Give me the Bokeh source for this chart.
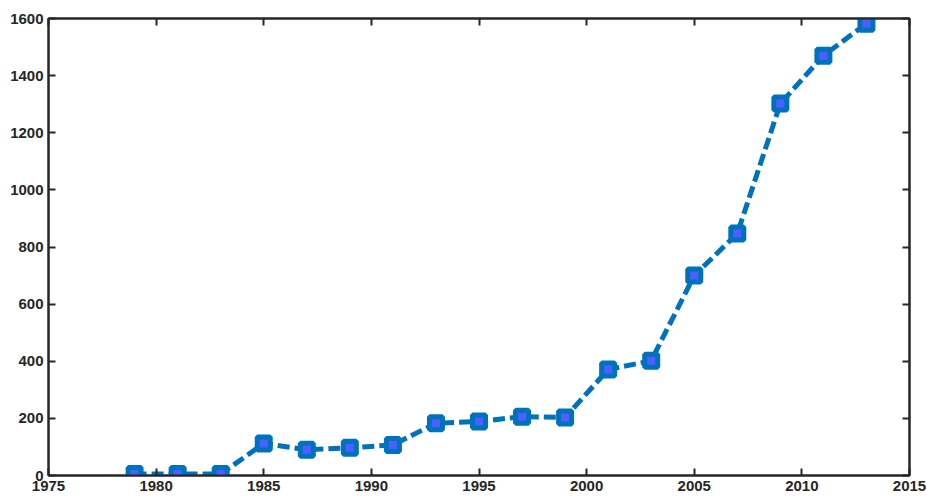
from bokeh.plotting import figure
from bokeh.models import LinearAxis, FixedTicker, Range1d, CustomJSTickFormatter
from bokeh.embed import file_html
from bokeh.resources import INLINE

years = [1979, 1981, 1983, 1985, 1987, 1989, 1991, 1993, 1995, 1997, 1999,
         2001, 2003, 2005, 2007, 2009, 2011, 2013]
values = [5, 5, 5, 112, 90, 97, 107, 183, 189, 206, 203,
          371, 402, 700, 847, 1302, 1470, 1582]
x_ticks = [1975, 1980, 1985, 1990, 1995, 2000, 2005, 2010, 2015]
y_ticks = [0, 200, 400, 600, 800, 1000, 1200, 1400, 1600]

FONT = "Liberation Sans"
AX = "#262626"

p = figure(width=927, height=496, output_backend="svg", toolbar_location=None,
           x_range=Range1d(1975, 2015), y_range=Range1d(0, 1600),
           min_border_left=48, min_border_top=18, min_border_right=18,
           min_border_bottom=21)
p.frame_width = 861
p.frame_height = 457
p.grid.visible = False
p.outline_line_color = AX
p.outline_line_width = 2

def style(ax, ticks, labels=True):
    ax.ticker = FixedTicker(ticks=ticks)
    ax.major_tick_in = 7
    ax.major_tick_out = 0
    ax.minor_tick_in = 0
    ax.minor_tick_out = 0
    ax.major_tick_line_color = AX
    ax.major_tick_line_width = 2
    ax.axis_line_color = AX
    ax.axis_line_width = 2
    ax.major_label_text_font = FONT
    ax.major_label_text_font_style = "bold"
    ax.major_label_text_font_size = "15px"
    ax.major_label_text_color = AX
    ax.major_label_standoff = 5
    if not labels:
        ax.formatter = CustomJSTickFormatter(code="return ''")
        ax.major_label_standoff = 0

style(p.xaxis[0], x_ticks)
style(p.yaxis[0], y_ticks)
top = LinearAxis()
right = LinearAxis()
style(top, x_ticks, False)
style(right, y_ticks, False)
p.add_layout(top, "above")
p.add_layout(right, "right")

p.line(years, values, line_color="#0072BD", line_width=5, line_dash="12 5")
p.scatter(years, values, marker="square", size=13, line_color="#0072BD",
          line_width=5, fill_color="#4D5FFF")

open("out.html", "w").write(file_html(p, INLINE))
